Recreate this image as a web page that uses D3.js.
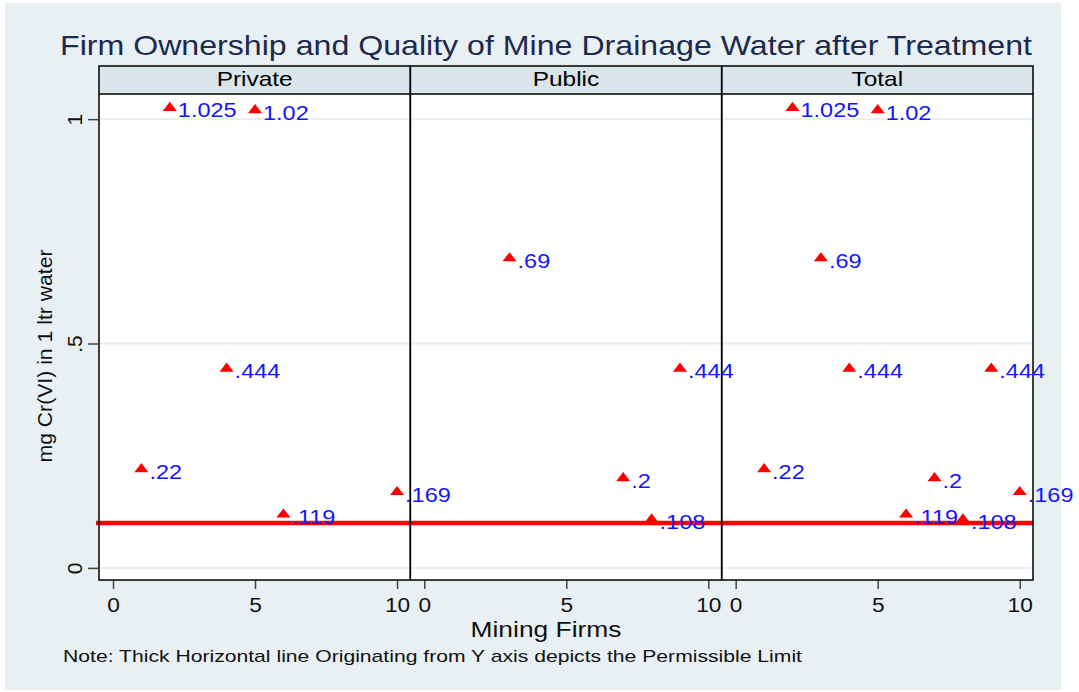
<!DOCTYPE html>
<html>
<head>
<meta charset="utf-8">
<script src="https://cdn.jsdelivr.net/npm/d3@7"></script>
<style>
  html, body { margin: 0; padding: 0; background: #ffffff; }
  svg { display: block; font-family: "Liberation Sans", Arial, Helvetica, sans-serif; }
</style>
</head>
<body>
<svg id="chart" width="1079" height="692"></svg>
<script>
// ---------- data ----------
const panelNames = ["Private", "Public", "Total"];
const privateFirms = [1, 2, 4, 5, 6, 10];
const privateCr = [0.22, 1.025, 0.444, 1.02, 0.119, 0.169];
const publicFirms = [3, 7, 8, 9];
const publicCr = [0.69, 0.2, 0.108, 0.444];
const totalFirms = [1, 2, 3, 4, 5, 6, 7, 8, 9, 10];
const totalCr = [0.22, 1.025, 0.69, 0.444, 1.02, 0.119, 0.2, 0.108, 0.444, 0.169];
const xTicks = [0, 5, 10];
const yTicks = [0, 0.5, 1];
const yTickLabels = ["0", ".5", "1"];
const permissibleLimit = 0.1;
const titleText = "Firm Ownership and Quality of Mine Drainage Water after Treatment";
const xTitle = "Mining Firms";
const yTitle = "mg Cr(VI) in 1 ltr water";
const noteText = "Note: Thick Horizontal line Originating from Y axis depicts the Permissible Limit";

const seriesByPanel = [
  { firms: privateFirms, cr: privateCr },
  { firms: publicFirms, cr: publicCr },
  { firms: totalFirms, cr: totalCr }
];

// ---------- layout ----------
const svg = d3.select("#chart");
const plotLeft = 99, plotRight = 1033, plotTop = 94, plotBottom = 580, stripTop = 66;
const panelW = (plotRight - plotLeft) / 3;
const fmt = v => String(v).replace(/^0\./, ".");

svg.append("rect").attr("x", 5).attr("y", 3).attr("width", 1056).attr("height", 687)
  .attr("fill", "#e9f0f3");

const y = d3.scaleLinear().domain([-0.027, 1.056]).range([plotBottom, plotTop]);

// title
svg.append("text").attr("x", 546).attr("y", 55).attr("text-anchor", "middle")
  .attr("font-size", 28).attr("fill", "#1c2a4d")
  .attr("textLength", 972).attr("lengthAdjust", "spacingAndGlyphs")
  .text(titleText);

const baseLayer = svg.append("g");
const frameLayer = svg.append("g");
const markLayer = svg.append("g");

panelNames.forEach((name, i) => {
  const left = plotLeft + i * panelW;
  const x = d3.scaleLinear().domain([-0.493, 10.468]).range([left, left + panelW]);
  const g = baseLayer.append("g");

  // strip
  g.append("rect").attr("x", left).attr("y", stripTop).attr("width", panelW)
    .attr("height", plotTop - stripTop).attr("fill", "#d9e5eb");
  g.append("text").attr("transform", `translate(${left + panelW / 2},86) scale(1.22,1)`)
    .attr("text-anchor", "middle").attr("font-size", 20).attr("fill", "#000")
    .text(name);

  // plot area
  g.append("rect").attr("x", left).attr("y", plotTop).attr("width", panelW)
    .attr("height", plotBottom - plotTop).attr("fill", "#ffffff");

  // grid
  g.selectAll(".grid").data(yTicks).join("line")
    .attr("x1", left).attr("x2", left + panelW)
    .attr("y1", d => y(d)).attr("y2", d => y(d))
    .attr("stroke", "#e7eef1").attr("stroke-width", 2);

  // x axis
  const xa = g.append("g").attr("transform", `translate(0,${plotBottom})`)
    .call(d3.axisBottom(x).tickValues(xTicks).tickSize(9).tickPadding(0).tickFormat(d3.format("d")));
  xa.select(".domain").remove();
  xa.selectAll(".tick line").attr("stroke", "#444").attr("stroke-width", 1.5);
  xa.selectAll(".tick text").attr("font-size", 21).attr("fill", "#111")
    .attr("font-family", "Liberation Sans, Arial, sans-serif")
    .attr("dy", null).attr("y", 32).attr("x", 0)
    .attr("transform", "scale(1.08,1)");

  // limit line
  g.append("line").attr("x1", left - (i === 0 ? 3 : 0)).attr("x2", left + panelW)
    .attr("y1", y(permissibleLimit)).attr("y2", y(permissibleLimit))
    .attr("stroke", "#ff0000").attr("stroke-width", 4.5);

  // frame
  frameLayer.append("rect").attr("x", left).attr("y", stripTop).attr("width", panelW)
    .attr("height", plotBottom - stripTop).attr("fill", "none")
    .attr("stroke", "#000").attr("stroke-width", 1.5);
  frameLayer.append("line").attr("x1", left).attr("x2", left + panelW)
    .attr("y1", plotTop).attr("y2", plotTop).attr("stroke", "#000").attr("stroke-width", 1.5);

  // markers and labels
  const s = seriesByPanel[i];
  const pts = s.firms.map((f, k) => ({ f, v: s.cr[k] }));
  const mg = markLayer.append("g");
  mg.selectAll("path").data(pts).join("path")
    .attr("d", d3.symbol(d3.symbolTriangle, 62)())
    .attr("transform", d => `translate(${x(d.f)},${y(d.v)}) scale(1.18,0.88)`)
    .attr("fill", "#ff0000");
  mg.selectAll("text").data(pts).join("text")
    .attr("transform", d => `translate(${x(d.f) + 8},${y(d.v) + 9.5}) scale(1.12,1)`)
    .attr("font-size", 21).attr("fill", "#1414ff")
    .text(d => fmt(d.v));
});

// y axis
const ya = svg.append("g").attr("transform", `translate(${plotLeft},0)`)
  .call(d3.axisLeft(y).tickValues(yTicks).tickSize(11).tickPadding(0)
    .tickFormat((d, i) => yTickLabels[i]));
ya.select(".domain").remove();
ya.selectAll(".tick line").attr("stroke", "#444").attr("stroke-width", 1.5);
ya.selectAll(".tick text").attr("font-size", 21).attr("fill", "#111")
  .attr("font-family", "Liberation Sans, Arial, sans-serif")
  .attr("x", null).attr("dy", null).attr("text-anchor", "middle")
  .attr("transform", "translate(-17,0) rotate(-90)");

// axis titles
svg.append("text").attr("x", 546).attr("y", 637).attr("text-anchor", "middle")
  .attr("font-size", 22).attr("fill", "#111")
  .attr("textLength", 151).attr("lengthAdjust", "spacingAndGlyphs")
  .text(xTitle);
svg.append("text").attr("transform", "translate(52,356) rotate(-90)")
  .attr("text-anchor", "middle").attr("font-size", 21).attr("fill", "#111")
  .attr("textLength", 213).attr("lengthAdjust", "spacingAndGlyphs")
  .text(yTitle);

// note
svg.append("text").attr("x", 63).attr("y", 662).attr("font-size", 17).attr("fill", "#111")
  .attr("textLength", 739).attr("lengthAdjust", "spacingAndGlyphs")
  .text(noteText);
</script>
</body>
</html>
